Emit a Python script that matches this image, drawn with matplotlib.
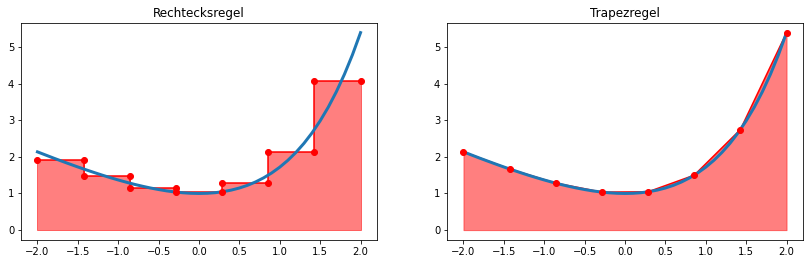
import matplotlib
matplotlib.use("Agg")
import matplotlib.pyplot as plt

# Curve values at x = -2.0 ... 2.0, step 0.1
curve_x = [-2.0, -1.9, -1.8, -1.7, -1.6, -1.5, -1.4, -1.3, -1.2, -1.1, -1.0,
           -0.9, -0.8, -0.7, -0.6, -0.5, -0.4, -0.3, -0.2, -0.1, 0.0,
           0.1, 0.2, 0.3, 0.4, 0.5, 0.6, 0.7, 0.8, 0.9, 1.0,
           1.1, 1.2, 1.3, 1.4, 1.5, 1.6, 1.7, 1.8, 1.9, 2.0]
curve_y = [2.135, 2.050, 1.965, 1.883, 1.802, 1.723, 1.647, 1.573, 1.501, 1.433, 1.368,
           1.307, 1.249, 1.197, 1.149, 1.107, 1.070, 1.041, 1.019, 1.005, 1.000,
           1.005, 1.021, 1.050, 1.092, 1.149, 1.222, 1.314, 1.426, 1.560, 1.718,
           1.904, 2.120, 2.369, 2.655, 2.982, 3.353, 3.774, 4.250, 4.786, 5.389]

# Grid nodes and values at the nodes
nodes_x = [-2.0, -1.4286, -0.8571, -0.2857, 0.2857, 0.8571, 1.4286, 2.0]
nodes_y = [2.135, 1.668, 1.282, 1.037, 1.045, 1.499, 2.744, 5.389]

# Rectangle heights for the seven intervals
rect_h = [1.90, 1.475, 1.16, 1.041, 1.272, 2.12, 4.067]

titles = ["Rechtecksregel", "Trapezregel"]

W, H = 808, 264
fig = plt.figure(figsize=(W / 72, H / 72), dpi=72)
ax1 = fig.add_axes([21.3 / W, 24 / H, 355.4 / W, 217.3 / H])
ax2 = fig.add_axes([447.3 / W, 24 / H, 355.4 / W, 217.3 / H])

# Rectangle rule: step outline
sx, sy = [], []
for i, h in enumerate(rect_h):
    sx += [nodes_x[i], nodes_x[i + 1]]
    sy += [h, h]
ax1.fill_between(sx, sy, color="red", alpha=0.5, zorder=1)
ax1.plot(sx, sy, color="red", lw=1.5, zorder=2)
ax1.plot(curve_x, curve_y, color="#1f77b4", lw=3, zorder=3)
ax1.plot(sx, sy, "o", color="red", ms=6, zorder=4)
ax1.set_title(titles[0])

# Trapezoid rule
ax2.fill_between(nodes_x, nodes_y, color="red", alpha=0.5, zorder=1)
ax2.plot(nodes_x, nodes_y, color="red", lw=1.5, zorder=2)
ax2.plot(curve_x, curve_y, color="#1f77b4", lw=3, zorder=3)
ax2.plot(nodes_x, nodes_y, "o", color="red", ms=6, zorder=4)
ax2.set_title(titles[1])

for ax in (ax1, ax2):
    ax.set_xticks([-2.0, -1.5, -1.0, -0.5, 0.0, 0.5, 1.0, 1.5, 2.0])
    ax.set_yticks([0, 1, 2, 3, 4, 5])
    ax.set_xlim(-2.2, 2.2)
    ax.set_ylim(-0.27, 5.66)

fig.savefig("out.png", dpi=72)
